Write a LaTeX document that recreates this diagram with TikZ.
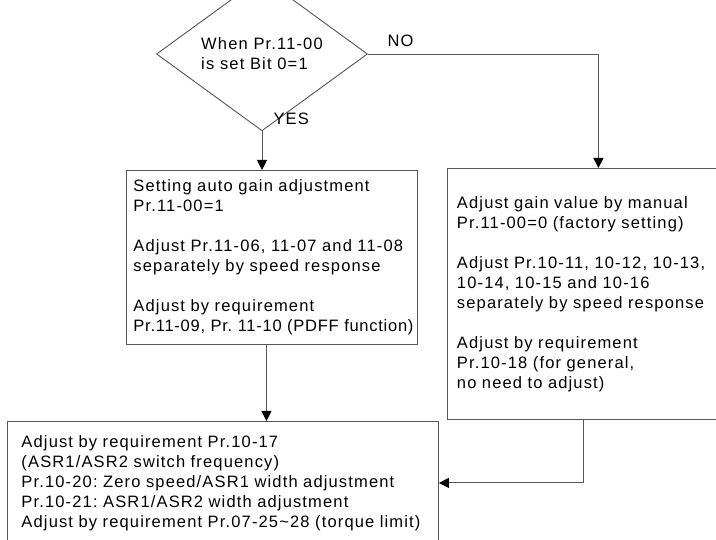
\documentclass[tikz,border=0pt]{standalone}
\usepackage{fontspec}
\setmainfont[LetterSpace=7]{Liberation Sans}
\usepackage{tikz}
\usetikzlibrary{shapes.geometric,arrows.meta,positioning,calc}
\definecolor{linegray}{RGB}{85,85,85}
\frenchspacing

\begin{document}
\begin{tikzpicture}[x=1pt, y=-1pt,
    txt/.style={font=\fontsize{16.5}{20}\selectfont},
    box/.style={txt, draw=linegray, line width=0.9pt, rectangle, align=left, inner ysep=0pt},
    conn/.style={draw=linegray, line width=0.9pt, -{Triangle[length=10pt,width=10pt,color=black]}}]
    \useasboundingbox (0,0) rectangle (716,540);
    \clip (0,0) rectangle (716,540);

    % Decision
    \node[shape=diamond, draw=linegray, line width=0.9pt, minimum width=211pt, minimum height=90pt,
          inner sep=0pt, txt, align=left] (dec) at (262,54) {When Pr.11-00\\is set Bit 0=1};
    \node[txt, anchor=base west] (yes) at (270,125) {YES};
    \node[txt, anchor=base west] (no) at (384,47) {NO};

    % Auto gain
    \node[box, anchor=north west, text width=277pt, inner xsep=7pt, minimum height=174pt] (auto) at (126,170)
        {Setting auto gain adjustment\\Pr.11-00=1\\[20pt]
         \mbox{Adjust Pr.11-06, 11-07 and 11-08}\\separately by speed response\\[20pt]
         Adjust by requirement\\\mbox{\addfontfeatures{LetterSpace=4.5}Pr.11-09, Pr. 11-10 (PDFF function)}};

    % Manual gain
    \node[box, anchor=north west, text width=283pt, inner xsep=9.5pt, minimum height=251pt] (manual) at (447,168)
        {Adjust gain value by manual\\Pr.11-00=0 (factory setting)\\[20pt]
         Adjust Pr.10-11, 10-12, 10-13,\\10-14, 10-15 and 10-16\\separately by speed response\\[20pt]
         Adjust by requirement\\Pr.10-18 (for general,\\no need to adjust)};

    % ASR and torque limit
    \node[box, anchor=north west, text width=403pt, inner xsep=14pt, minimum height=123pt] (limit) at (7,421)
        {Adjust by requirement Pr.10-17\\(ASR1/ASR2 switch frequency)\\
         \mbox{Pr.10-20: Zero speed/ASR1 width adjustment}\\Pr.10-21: ASR1/ASR2 width adjustment\\
         \mbox{Adjust by requirement Pr.07-25\textasciitilde 28 (torque limit)}};

    % Connectors
    \draw[conn] (dec.south) -- (dec.south |- auto.north);
    \draw[conn] (dec.east) -| (manual.north);
    \draw[conn] ([xshift=-5.5pt]auto.south) -- ([xshift=-5.5pt]auto.south |- limit.north);
    \draw[conn] ([xshift=-15pt]manual.south) |- (limit.east);
\end{tikzpicture}
\end{document}
